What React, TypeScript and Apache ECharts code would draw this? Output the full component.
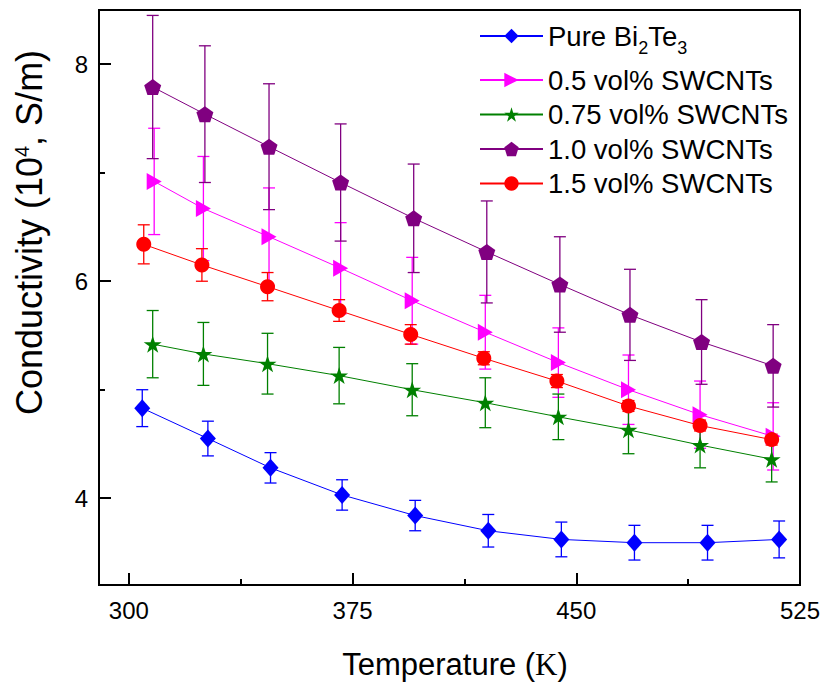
import React, { useEffect, useRef } from "react";
import * as echarts from "echarts";

const FONT = "Liberation Sans, Arial, sans-serif";

// ---- data ----
const seriesNames = [
  "Pure Bi2Te3",
  "0.5 vol% SWCNTs",
  "0.75 vol% SWCNTs",
  "1.0 vol% SWCNTs",
  "1.5 vol% SWCNTs",
];
const seriesColors = ["#0000FF", "#FF00FF", "#008000", "#800080", "#FF0000"];

const tempsPure = [304.5, 326.5, 347.5, 371.5, 396, 420.5, 445, 469.5, 494, 518];
const valsPure = [4.83, 4.55, 4.28, 4.03, 3.84, 3.7, 3.62, 3.59, 3.59, 3.62];
const errPure = [0.17, 0.16, 0.14, 0.14, 0.14, 0.15, 0.16, 0.16, 0.16, 0.17];

const temps05 = [308.5, 325, 347, 371, 395, 419.5, 444, 467.5, 491.5, 516];
const vals05 = [6.92, 6.67, 6.41, 6.12, 5.82, 5.53, 5.25, 5.0, 4.77, 4.57];
const err05 = [0.49, 0.48, 0.45, 0.42, 0.4, 0.34, 0.32, 0.32, 0.31, 0.31];

const temps075 = [308, 325, 346.5, 370.5, 395, 419.5, 444, 467.5, 491.5, 515.5];
const vals075 = [5.42, 5.33, 5.24, 5.13, 5.0, 4.88, 4.75, 4.63, 4.49, 4.36];
const err075 = [0.31, 0.29, 0.28, 0.26, 0.24, 0.23, 0.21, 0.22, 0.21, 0.21];

const temps10 = [308, 325.5, 347, 371, 395.5, 420, 444.5, 468, 492, 516];
const vals10 = [7.79, 7.54, 7.24, 6.91, 6.58, 6.27, 5.97, 5.69, 5.44, 5.22];
const err10 = [0.66, 0.63, 0.58, 0.54, 0.5, 0.47, 0.44, 0.42, 0.39, 0.38];

const temps15 = [305, 324.5, 346.5, 370.5, 394.5, 419, 443.5, 467.5, 491.5, 515.5];
const vals15 = [6.34, 6.15, 5.95, 5.73, 5.51, 5.29, 5.08, 4.85, 4.67, 4.54];
const err15 = [0.18, 0.15, 0.13, 0.1, 0.09, 0.06, 0.06, 0.05, 0.05, 0.05];

const xTicks = [300, 375, 450, 525];
const xMinorTicks = [337.5, 412.5, 487.5];
const yTicks = [4, 6, 8];
const yMinorTicks = [5, 7];

const PENTAGON =
  "path://M0,-1 L0.951,-0.309 L0.588,0.809 L-0.588,0.809 L-0.951,-0.309 Z";
const STAR =
  "path://M0,-1 L0.2245,-0.309 L0.951,-0.309 L0.3633,0.118 L0.588,0.809 L0,0.382 L-0.588,0.809 L-0.3633,0.118 L-0.951,-0.309 L-0.2245,-0.309 Z";

const allTemps = [tempsPure, temps05, temps075, temps10, temps15];
const allVals = [valsPure, vals05, vals075, vals10, vals15];
const allErr = [errPure, err05, err075, err10, err15];
const symbols = ["diamond", "triangle", STAR, PENTAGON, "circle"];
const symbolSizes: any[] = [[16, 18], [17, 15], [18, 17], [17, 16], 15];
const symbolRotates = [0, -90, 0, 0, 0];

function buildOption() {
  const series: any[] = [];
  seriesNames.forEach((name, s) => {
    const color = seriesColors[s];
    series.push({
      type: "custom",
      name: "err-" + s,
      xAxisIndex: 0,
      yAxisIndex: 0,
      z: 2,
      silent: true,
      encode: { x: 0, y: 1 },
      data: allTemps[s].map((t, i) => [t, allVals[s][i], allErr[s][i]]),
      renderItem: (params: any, api: any) => {
        const x = api.value(0);
        const v = api.value(1);
        const e = api.value(2);
        const top = api.coord([x, v + e]);
        const bot = api.coord([x, v - e]);
        const cap = 6;
        const st = { stroke: color, lineWidth: 1.3 };
        return {
          type: "group",
          children: [
            { type: "line", shape: { x1: top[0], y1: top[1], x2: bot[0], y2: bot[1] }, style: st },
            { type: "line", shape: { x1: top[0] - cap, y1: top[1], x2: top[0] + cap, y2: top[1] }, style: st },
            { type: "line", shape: { x1: bot[0] - cap, y1: bot[1], x2: bot[0] + cap, y2: bot[1] }, style: st },
          ],
        };
      },
    });
  });
  seriesNames.forEach((name, s) => {
    const color = seriesColors[s];
    series.push({
      type: "line",
      name,
      xAxisIndex: 0,
      yAxisIndex: 0,
      z: 3,
      data: allTemps[s].map((t, i) => [t, allVals[s][i]]),
      symbol: symbols[s],
      symbolSize: symbolSizes[s],
      symbolRotate: symbolRotates[s],
      showAllSymbol: true,
      itemStyle: { color, borderWidth: 0 },
      lineStyle: { color, width: 1 },
      emphasis: { disabled: true },
    });
  });

  const axisLineStyle = { color: "#000", width: 2 };
  const legendBase = {
    orient: "vertical",
    left: 479,
    padding: 0,
    itemWidth: 63,
    itemHeight: 18,
    selectedMode: false,
  };

  return {
    animation: false,
    textStyle: { fontFamily: FONT },
    grid: {
      left: 99,
      top: 10,
      right: 25,
      bottom: 100,
      show: true,
      borderColor: "#000",
      borderWidth: 2,
      backgroundColor: "transparent",
    },
    legend: [
      {
        ...legendBase,
        top: 22,
        data: [seriesNames[0]],
        formatter: () => "Pure Bi{sub|2}Te{sub|3}",
        textStyle: {
          fontSize: 27.5,
          color: "#000",
          fontFamily: FONT,
          rich: {
            sub: { fontSize: 18, color: "#000", fontFamily: FONT, padding: [24, 0, 0, 0] },
          },
        },
      },
      {
        ...legendBase,
        top: 66,
        itemGap: 6.5,
        data: seriesNames.slice(1),
        textStyle: { fontSize: 27.5, color: "#000", fontFamily: FONT },
      },
    ],
    xAxis: [
      {
        type: "value",
        min: 290,
        max: 525,
        name: "Temperature ({k|K})",
        nameLocation: "middle",
        nameGap: 64,
        nameTextStyle: {
          fontSize: 31,
          color: "#000",
          fontFamily: FONT,
          padding: [0, 0, 0, 11],
          rich: { k: { fontSize: 31, color: "#000", fontFamily: "Liberation Serif, serif" } },
        },
        axisLine: { show: true, onZero: false, lineStyle: axisLineStyle },
        axisTick: { show: true, inside: true, length: 12, lineStyle: axisLineStyle, customValues: xTicks },
        axisLabel: { show: true, fontSize: 24, color: "#000", margin: 13, customValues: xTicks },
        splitLine: { show: false },
      },
      {
        type: "value",
        min: 290,
        max: 525,
        position: "bottom",
        axisLine: { show: false },
        axisTick: { show: true, inside: true, length: 6, lineStyle: axisLineStyle, customValues: xMinorTicks },
        axisLabel: { show: false },
        splitLine: { show: false },
      },
    ],
    yAxis: [
      {
        type: "value",
        min: 3.2,
        max: 8.5,
        name: "Conductivity (10{sup|4}, S/m)",
        nameLocation: "middle",
        nameGap: 52,
        nameTextStyle: {
          fontSize: 36,
          color: "#000",
          fontFamily: FONT,
          padding: [0, 0, 0, 130],
          rich: { sup: { fontSize: 20, color: "#000", fontFamily: FONT, padding: [0, 0, 15, 0] } },
        },
        axisLine: { show: true, onZero: false, lineStyle: axisLineStyle },
        axisTick: { show: true, inside: true, length: 12, lineStyle: axisLineStyle, customValues: yTicks },
        axisLabel: { show: true, fontSize: 24, color: "#000", margin: 11, customValues: yTicks },
        splitLine: { show: false },
      },
      {
        type: "value",
        min: 3.2,
        max: 8.5,
        position: "left",
        axisLine: { show: false },
        axisTick: { show: true, inside: true, length: 6, lineStyle: axisLineStyle, customValues: yMinorTicks },
        axisLabel: { show: false },
        splitLine: { show: false },
      },
    ],
    series,
  };
}

export default function App() {
  const ref = useRef<HTMLDivElement>(null);
  useEffect(() => {
    document.body.style.margin = "0";
    if (!ref.current) return;
    const chart = echarts.init(ref.current, undefined, { renderer: "svg" });
    chart.setOption(buildOption() as any);
    return () => chart.dispose();
  }, []);
  return <div ref={ref} style={{ width: 825, height: 685, background: "#fff" }} />;
}
